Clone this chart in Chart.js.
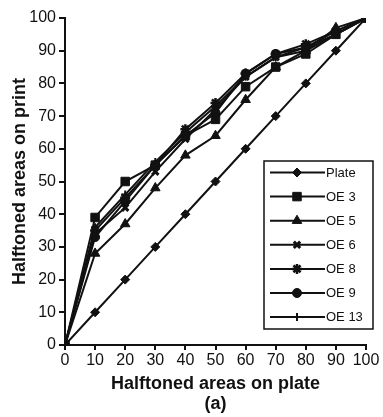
<!DOCTYPE html>
<html>
<head>
<meta charset="utf-8">
<script src="https://cdn.jsdelivr.net/npm/chart.js@4/dist/chart.umd.min.js"></script>
<style>
  body { margin: 0; background: #fff; }
  #wrap { width: 383px; height: 417px; }
</style>
</head>
<body>
<div id="wrap"><canvas id="dotGainChart"></canvas></div>
<script>
const plateAreas = [0, 10, 20, 30, 40, 50, 60, 70, 80, 90, 100];
const tickValues = [0, 10, 20, 30, 40, 50, 60, 70, 80, 90, 100];

const seriesNames = ["Plate", "OE 3", "OE 5", "OE 6", "OE 8", "OE 9", "OE 13"];
const plate = [0, 10, 20, 30, 40, 50, 60, 70, 80, 90, 100];
const oe3 = [0, 39, 50, 55, 64, 69, 79, 85, 89, 95, 100];
const oe5 = [0, 28, 37, 48, 58, 64, 75, 85, 90, 97, 100];
const oe6 = [0, 34, 42, 53, 63, 72, 82, 88, 91, 95, 100];
const oe8 = [0, 35, 45, 55, 66, 74, 83, 89, 92, 96, 100];
const oe9 = [0, 33, 44, 55, 64, 71, 83, 89, 91, 96, 100];
const oe13 = [0, 36, 46, 56, 65, 73, 82, 88, 90, 95, 100];

const INK = "#111";
const markerStyles = [
    { style: "rectRot", radius: 4.5, width: 1 },
    { style: "rect", radius: 6, width: 1 },
    { style: "triangle", radius: 5.5, width: 1 },
    { style: "crossRot", radius: 4.5, width: 3 },
    { style: "star", radius: 5, width: 2.5 },
    { style: "circle", radius: 4.5, width: 1 },
    { style: "cross", radius: 4, width: 2 }
];

function toPoints(values) {
    return plateAreas.map((x, i) => ({ x: x, y: values[i] }));
}

const seriesValues = [plate, oe3, oe5, oe6, oe8, oe9, oe13];
const datasets = seriesValues.map((values, i) => ({
    label: seriesNames[i],
    data: toPoints(values),
    borderColor: INK,
    backgroundColor: INK,
    borderWidth: 2,
    pointStyle: markerStyles[i].style,
    pointRadius: markerStyles[i].radius,
    pointBorderWidth: markerStyles[i].width,
    pointBackgroundColor: INK,
    pointBorderColor: INK,
    tension: 0
}));

// legend box drawn inside the plot, like the original figure
const boxLegend = {
    id: "boxLegend",
    afterDraw(chart) {
        const ctx = chart.ctx;
        const left = 264, top = 161, right = 373, bottom = 329;
        ctx.save();
        ctx.fillStyle = "#fff";
        ctx.fillRect(left, top, right - left, bottom - top);
        ctx.strokeStyle = INK;
        ctx.lineWidth = 1.5;
        ctx.strokeRect(left, top, right - left, bottom - top);
        ctx.font = "13px 'Liberation Sans', Arial, sans-serif";
        ctx.textBaseline = "middle";
        chart.data.datasets.forEach((ds, i) => {
            const y = 172.5 + i * 24.1;
            ctx.strokeStyle = INK;
            ctx.lineWidth = 2;
            ctx.beginPath();
            ctx.moveTo(270, y);
            ctx.lineTo(325, y);
            ctx.stroke();
            ctx.fillStyle = INK;
            if (Chart.helpers && Chart.helpers.drawPoint) {
                ctx.lineWidth = ds.pointBorderWidth;
                Chart.helpers.drawPoint(ctx, {
                    pointStyle: ds.pointStyle,
                    radius: ds.pointRadius,
                    rotation: 0,
                    borderWidth: ds.pointBorderWidth
                }, 297, y);
            }
            ctx.fillStyle = INK;
            ctx.fillText(ds.label, 326, y + 0.5);
        });
        ctx.restore();
    }
};

const axisFont = { family: "'Liberation Sans', Arial, sans-serif", size: 16 };
const titleFont = { family: "'Liberation Sans', Arial, sans-serif", size: 18, weight: "bold", lineHeight: 1.1 };

new Chart(document.getElementById("dotGainChart"), {
    type: "line",
    data: { datasets: datasets },
    options: {
        responsive: true,
        maintainAspectRatio: false,
        animation: false,
        layout: { padding: { top: 18, right: 17, bottom: 0, left: 0 } },
        plugins: {
            legend: { display: false },
            tooltip: { enabled: false }
        },
        scales: {
            x: {
                type: "linear",
                min: 0,
                max: 100,
                afterBuildTicks: scale => { scale.ticks = tickValues.map(v => ({ value: v })); },
                afterFit: scale => { scale.height = 72; },
                ticks: { color: INK, font: axisFont, padding: 1, maxRotation: 0 },
                grid: { display: true, drawOnChartArea: false, drawTicks: true, tickLength: 5, color: INK, lineWidth: 2 },
                border: { display: true, color: INK, width: 2 },
                title: {
                    display: true,
                    text: ["Halftoned areas on plate", "(a)"],
                    color: INK,
                    font: titleFont,
                    padding: { top: 0, bottom: 3 }
                }
            },
            y: {
                type: "linear",
                min: 0,
                max: 100,
                afterBuildTicks: scale => { scale.ticks = tickValues.map(v => ({ value: v })); },
                afterFit: scale => { scale.width = 65; },
                ticks: { color: INK, font: axisFont, padding: 3 },
                grid: { display: true, drawOnChartArea: false, drawTicks: true, tickLength: 6, color: INK, lineWidth: 2 },
                border: { display: true, color: INK, width: 2 },
                title: {
                    display: true,
                    text: "Halftoned areas on print",
                    color: INK,
                    font: titleFont,
                    padding: { top: 10, bottom: 0 }
                }
            }
        }
    },
    plugins: [boxLegend]
});
</script>
</body>
</html>
